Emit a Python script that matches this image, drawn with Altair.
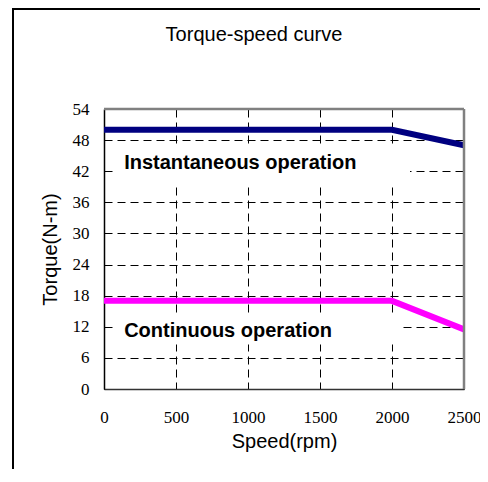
import altair as alt
import pandas as pd

# Data
speed = [0, 2000, 2500]
instantaneous = [50, 50, 47]
continuous = [17, 17, 11.5]

label_text = ["Instantaneous operation", "Continuous operation"]
label_x = [140, 140]
label_y = [43.6, 11.2]
box_x1 = [75, 80]
box_x2 = [2125, 2050]
box_y1 = [39.3, 8.6]
box_y2 = [46.8, 14.2]

x_domain = [0, 2500]
y_domain = [0, 54]
x_ticks = [0, 500, 1000, 1500, 2000, 2500]
y_ticks = [0, 6, 12, 18, 24, 30, 36, 42, 48, 54]
chart_title = ["Torque-speed curve"]

lines_df = pd.DataFrame({
    "speed": speed * 2,
    "torque": instantaneous + continuous,
    "series": ["Instantaneous"] * len(speed) + ["Continuous"] * len(speed),
})
labels_df = pd.DataFrame({
    "text": label_text, "x": label_x, "y": label_y,
    "x1": box_x1, "x2": box_x2, "y1": box_y1, "y2": box_y2,
})
title_df = pd.DataFrame({"t": chart_title})
# top and right edges of the plot frame, from the axis domains
edges_df = pd.DataFrame({
    "x1": [x_domain[0], x_domain[1]], "x2": [x_domain[1], x_domain[1]],
    "y1": [y_domain[1], y_domain[0]], "y2": [y_domain[1], y_domain[1]],
})

xscale = alt.Scale(domain=x_domain, nice=False, zero=False)
yscale = alt.Scale(domain=y_domain, nice=False, zero=False)

xaxis = alt.Axis(values=x_ticks, title="Speed(rpm)", grid=True, ticks=False, format="d",
                 labelFont="Liberation Serif", labelFontSize=17, labelColor="#000",
                 labelPadding=20, labelOverlap=False,
                 titleFont="Liberation Sans", titleFontSize=20,
                 titleFontWeight="normal", titleColor="#000", titlePadding=6,
                 domainColor="#333", domainWidth=1.5,
                 gridColor="#000", gridDash=[8, 5], gridWidth=1, labelFlush=False)
yaxis = alt.Axis(values=y_ticks, title="Torque(N-m)", grid=True, ticks=False, format="d",
                 labelFont="Liberation Serif", labelFontSize=17, labelColor="#000",
                 labelPadding=15, labelOverlap=False,
                 titleFont="Liberation Sans", titleFontSize=20,
                 titleFontWeight="normal", titleColor="#000", titlePadding=12,
                 domainColor="#000", domainWidth=1.5,
                 gridColor="#000", gridDash=[8, 5], gridWidth=1, labelFlush=False)

boxes = alt.Chart(labels_df).mark_rect(color="white").encode(
    x=alt.X("x1:Q", scale=xscale, axis=xaxis), x2="x2:Q",
    y=alt.Y("y1:Q", scale=yscale, axis=yaxis), y2="y2:Q",
)

base_lines = alt.Chart(lines_df).mark_line(strokeWidth=6, strokeCap="butt").encode(
    x=alt.X("speed:Q", scale=xscale, axis=xaxis),
    y=alt.Y("torque:Q", scale=yscale, axis=yaxis),
    color=alt.Color("series:N", scale=alt.Scale(domain=["Instantaneous", "Continuous"],
                                                range=["#000080", "#ff00ff"]), legend=None),
)

texts = alt.Chart(labels_df).mark_text(
    align="left", baseline="middle", font="Liberation Sans", fontSize=20,
    fontWeight="bold", color="#000"
).encode(
    x=alt.X("x:Q", scale=xscale, axis=xaxis), y=alt.Y("y:Q", scale=yscale, axis=yaxis),
    text="text:N"
)

edges = alt.Chart(edges_df).mark_rule(color="#808080", strokeWidth=2.5).encode(
    x=alt.X("x1:Q", scale=xscale, axis=xaxis), x2="x2:Q",
    y=alt.Y("y1:Q", scale=yscale, axis=yaxis), y2="y2:Q",
)

title_mark = alt.Chart(title_df).mark_text(
    align="center", baseline="alphabetic", font="Liberation Sans", fontSize=20,
    color="#000"
).encode(x=alt.value(150), y=alt.value(-68), text="t:N")

frame_v = alt.Chart(lines_df).mark_rule(color="#000", strokeWidth=2).encode(
    x=alt.value(-91), y=alt.value(-101), y2=alt.value(400))
frame_h = alt.Chart(lines_df).mark_rule(color="#000", strokeWidth=2).encode(
    x=alt.value(-91), x2=alt.value(400), y=alt.value(-100))

chart = alt.layer(boxes, base_lines, edges, texts, title_mark, frame_v, frame_h).properties(
    width=360, height=280,
    autosize=alt.AutoSizeParams(type="none"),
    padding={"left": 96, "top": 101, "right": 16, "bottom": 80},
).configure_view(stroke="#808080", strokeWidth=2).configure(background="white")

chart.save("out.html", embed_options={"renderer": "svg", "actions": False})
